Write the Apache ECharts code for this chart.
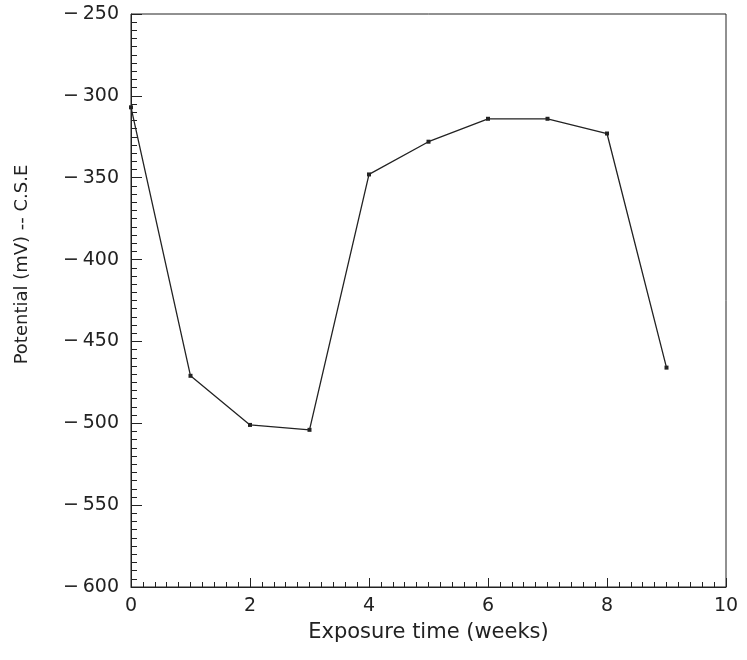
<!DOCTYPE html>
<html>
<head>
<meta charset="utf-8">
<script src="https://cdn.jsdelivr.net/npm/echarts@6/dist/echarts.min.js"></script>
<style>html,body{margin:0;padding:0;background:#fff}#c{width:747px;height:660px}</style>
</head>
<body>
<div id="c"></div>
<script>
const weeks = [0, 1, 2, 3, 4, 5, 6, 7, 8, 9];
const potential = [-307, -471, -501, -504, -348, -328, -314, -314, -323, -466];
const xTicks = [0, 2, 4, 6, 8, 10];
const yTicks = [-600, -550, -500, -450, -400, -350, -300, -250];

const ink = '#222222';
const font = 'DejaVu Sans';
const chart = echarts.init(document.getElementById('c'), null, {renderer: 'canvas'});
chart.setOption({
  animation: false,
  backgroundColor: '#fff',
  grid: {left: 131, right: 21, top: 14, bottom: 73, show: true, borderColor: ink, borderWidth: 1, backgroundColor: 'transparent'},
  xAxis: {
    type: 'value', min: xTicks[0], max: xTicks[xTicks.length - 1], interval: 2,
    name: 'Exposure time (weeks)', nameLocation: 'middle', nameGap: 35,
    nameTextStyle: {fontFamily: font, fontSize: 21, color: ink},
    axisLine: {show: true, lineStyle: {color: ink, width: 1}},
    axisTick: {show: true, inside: true, length: 9, lineStyle: {color: ink}},
    minorTick: {show: true, splitNumber: 10, length: 5, lineStyle: {color: ink}},
    splitLine: {show: false},
    axisLabel: {fontFamily: font, fontSize: 19, color: ink, margin: 10}
  },
  yAxis: {
    type: 'value', min: yTicks[0], max: yTicks[yTicks.length - 1], interval: 50,
    name: 'Potential (mV) -- C.S.E', nameLocation: 'middle', nameGap: 100,
    nameTextStyle: {fontFamily: font, fontSize: 18, color: ink, padding: [0, 0, 0, 72]},
    axisLine: {show: true, lineStyle: {color: ink, width: 1}},
    axisTick: {show: true, inside: true, length: 11, lineStyle: {color: ink}},
    minorTick: {show: true, splitNumber: 10, length: 6, lineStyle: {color: ink}},
    splitLine: {show: false},
    axisLabel: {fontFamily: font, fontSize: 19, color: ink, margin: 12,
      formatter: v => (v < 0 ? '\u2212\u2009' : '') + Math.abs(v)}
  },
  series: [{
    type: 'line',
    data: weeks.map((w, i) => [w, potential[i]]),
    symbol: 'rect', symbolSize: 4, showSymbol: true,
    lineStyle: {color: ink, width: 1.3},
    itemStyle: {color: ink}
  }]
});
</script>
</body>
</html>
